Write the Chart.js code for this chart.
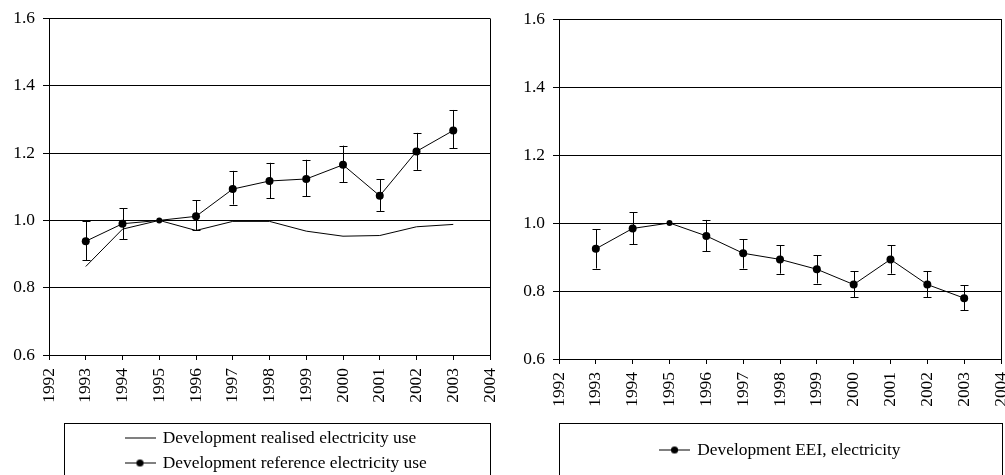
<!DOCTYPE html>
<html><head><meta charset="utf-8">
<script src="https://cdn.jsdelivr.net/npm/chart.js@4.4.1/dist/chart.umd.min.js"></script>
<style>
html,body{margin:0;padding:0;background:#fff;overflow:hidden;width:1005px;height:475px}
#c1{position:absolute;left:0;top:0}
#c2{position:absolute;left:500px;top:0}
</style></head><body>
<canvas id="c1" width="500" height="500"></canvas>
<canvas id="c2" width="505" height="500"></canvas>
<script>
// ---- data ----
const years = [1993, 1994, 1995, 1996, 1997, 1998, 1999, 2000, 2001, 2002, 2003];
const xTickYears = [1992, 1993, 1994, 1995, 1996, 1997, 1998, 1999, 2000, 2001, 2002, 2003, 2004];
const yTickValues = [0.6, 0.8, 1.0, 1.2, 1.4, 1.6];

const realisedUse   = [0.863, 0.974, 1.000, 0.970, 0.997, 0.997, 0.968, 0.953, 0.955, 0.981, 0.988];
const referenceUse  = [0.938, 0.990, 1.000, 1.012, 1.093, 1.117, 1.123, 1.165, 1.073, 1.205, 1.267];
const referenceLow  = [0.882, 0.944, null, 0.970, 1.047, 1.066, 1.072, 1.114, 1.028, 1.150, 1.214];
const referenceHigh = [0.997, 1.036, null, 1.060, 1.147, 1.171, 1.180, 1.222, 1.122, 1.260, 1.328];

const eeiElectricity = [0.924, 0.984, 1.000, 0.962, 0.911, 0.893, 0.864, 0.819, 0.893, 0.819, 0.779];
const eeiLow         = [0.866, 0.937, null, 0.917, 0.866, 0.851, 0.822, 0.781, 0.851, 0.781, 0.744];
const eeiHigh        = [0.982, 1.032, null, 1.009, 0.952, 0.934, 0.905, 0.858, 0.935, 0.858, 0.817];

const labelRealised  = 'Development realised electricity use';
const labelReference = 'Development reference electricity use';
const labelEEI       = 'Development EEI, electricity';

// ---- legend symbols ----
function legendSymbol(withDot) {
  const c = document.createElement('canvas');
  c.width = 31; c.height = 9;
  const g = c.getContext('2d');
  g.strokeStyle = '#000'; g.lineWidth = 1;
  g.beginPath(); g.moveTo(0, 4.5); g.lineTo(31, 4.5); g.stroke();
  if (withDot) { g.fillStyle = '#000'; g.beginPath(); g.arc(15.5, 4.5, 3.6, 0, Math.PI * 2); g.fill(); }
  return c;
}
const symLine = legendSymbol(false);
const symDot = legendSymbol(true);

const FONT_SIZE = 17.4;
Chart.defaults.font.family = "'Liberation Serif', 'Times New Roman', serif";
Chart.defaults.font.size = FONT_SIZE;
Chart.defaults.color = '#000';

const errorBars = {
  id: 'errorBars',
  afterDatasetsDraw(chart) {
    const {ctx, scales: {x, y}} = chart;
    ctx.save();
    ctx.strokeStyle = '#000'; ctx.lineWidth = 1;
    chart.data.datasets.forEach(ds => {
      if (!ds.errorLow) return;
      ds.data.forEach((p, i) => {
        const lo = ds.errorLow[i], hi = ds.errorHigh[i];
        if (lo == null || hi == null) return;
        const px = Math.round(x.getPixelForValue(p.x)) + 0.5;
        const py1 = y.getPixelForValue(lo), py2 = y.getPixelForValue(hi);
        ctx.beginPath();
        ctx.moveTo(px, py1); ctx.lineTo(px, py2);
        ctx.moveTo(px - 4, Math.round(py1) + 0.5); ctx.lineTo(px + 4, Math.round(py1) + 0.5);
        ctx.moveTo(px - 4, Math.round(py2) + 0.5); ctx.lineTo(px + 4, Math.round(py2) + 0.5);
        ctx.stroke();
      });
    });
    ctx.restore();
  }
};

const legendFrame = {
  id: 'legendFrame',
  afterLayout(chart, args, opts) {
    const lg = chart.legend;
    if (!lg) return;
    const h = lg.height;
    lg.left = opts.legendLeft; lg.right = opts.legendRight;
    lg.width = lg.right - lg.left;
    lg.top = opts.legendTop; lg.bottom = lg.top + h;
  },
  afterDraw(chart, args, opts) {
    const ctx = chart.ctx;
    ctx.save();
    ctx.strokeStyle = '#000'; ctx.lineWidth = 1;
    ctx.strokeRect(opts.left + 0.5, opts.top + 0.5, opts.right - opts.left, chart.height + 20 - opts.top);
    ctx.restore();
  }
};

function pts(vals) { return vals.map((v, i) => ({x: years[i], y: v})); }

function makeOptions(cfg) {
  const xMax = xTickYears[xTickYears.length - 1];
  return {
    responsive: false,
    animation: false,
    layout: {padding: cfg.padding},
    plugins: {
      tooltip: {enabled: false},
      legend: {
        position: 'bottom',
        align: cfg.legendAlign,
        labels: {
          usePointStyle: true,
          pointStyleWidth: 28,
          padding: 7.6,
          color: '#000',
          font: {size: FONT_SIZE},
          generateLabels: chart => chart.data.datasets.map((ds, i) => ({
            text: ds.label,
            pointStyle: ds.legendDot ? symDot : symLine,
            datasetIndex: i,
            hidden: false,
            lineWidth: 0,
            fillStyle: '#000',
            strokeStyle: '#000'
          }))
        }
      },
      legendFrame: cfg.frame
    },
    scales: {
      x: {
        type: 'linear',
        min: xTickYears[0],
        max: xMax,
        afterBuildTicks: s => { s.ticks = xTickYears.map(v => ({value: v})); },
        afterFit: s => { s.height = cfg.xAxisHeight; s.paddingLeft = 0; s.paddingRight = 0; },
        ticks: {minRotation: 90, maxRotation: 90, autoSkip: false, padding: 8, callback: v => String(v), color: '#000'},
        grid: {
          drawOnChartArea: true,
          color: c => (c.tick && c.tick.value === xMax) ? '#000' : 'rgba(0,0,0,0)',
          tickColor: '#000',
          tickLength: 5,
          lineWidth: 1
        },
        border: {display: true, color: '#000', width: 1}
      },
      y: {
        type: 'linear',
        min: yTickValues[0],
        max: yTickValues[yTickValues.length - 1],
        afterBuildTicks: s => { s.ticks = yTickValues.map(v => ({value: v})); },
        afterFit: s => { s.width = cfg.yAxisWidth; },
        ticks: {padding: 8, callback: v => Number(v).toFixed(1), color: '#000'},
        grid: {color: '#000', tickLength: 6, lineWidth: 1},
        border: {display: true, color: '#000', width: 1}
      }
    }
  };
}

const radiusFn = c => (c.dataset.errorLow && c.dataset.errorLow[c.dataIndex] == null) ? 3 : 4;

new Chart(document.getElementById('c1'), {
  type: 'line',
  data: {
    datasets: [
      {label: labelRealised, data: pts(realisedUse), borderColor: '#000', borderWidth: 1,
       pointRadius: 0, tension: 0, legendDot: false},
      {label: labelReference, data: pts(referenceUse), borderColor: '#000', backgroundColor: '#000',
       borderWidth: 1, pointRadius: radiusFn, pointBorderWidth: 0, pointBackgroundColor: '#000',
       tension: 0, legendDot: true, errorLow: referenceLow, errorHigh: referenceHigh}
    ]
  },
  options: makeOptions({
    padding: {top: 18, right: 10, bottom: 19, left: 0},
    yAxisWidth: 49, xAxisHeight: 66, legendAlign: 'start',
    frame: {left: 64, right: 490, top: 423, legendLeft: 118.4, legendRight: 490, legendTop: 421.7}
  }),
  plugins: [errorBars, legendFrame]
});

new Chart(document.getElementById('c2'), {
  type: 'line',
  data: {
    datasets: [
      {label: labelEEI, data: pts(eeiElectricity), borderColor: '#000', backgroundColor: '#000',
       borderWidth: 1, pointRadius: radiusFn, pointBorderWidth: 0, pointBackgroundColor: '#000',
       tension: 0, legendDot: true, errorLow: eeiLow, errorHigh: eeiHigh}
    ]
  },
  options: makeOptions({
    padding: {top: 19, right: 3, bottom: 32, left: 0},
    yAxisWidth: 59, xAxisHeight: 74, legendAlign: 'center',
    frame: {left: 59, right: 502, top: 423, legendLeft: 59, legendRight: 502, legendTop: 433.7}
  }),
  plugins: [errorBars, legendFrame]
});
</script>
</body></html>
